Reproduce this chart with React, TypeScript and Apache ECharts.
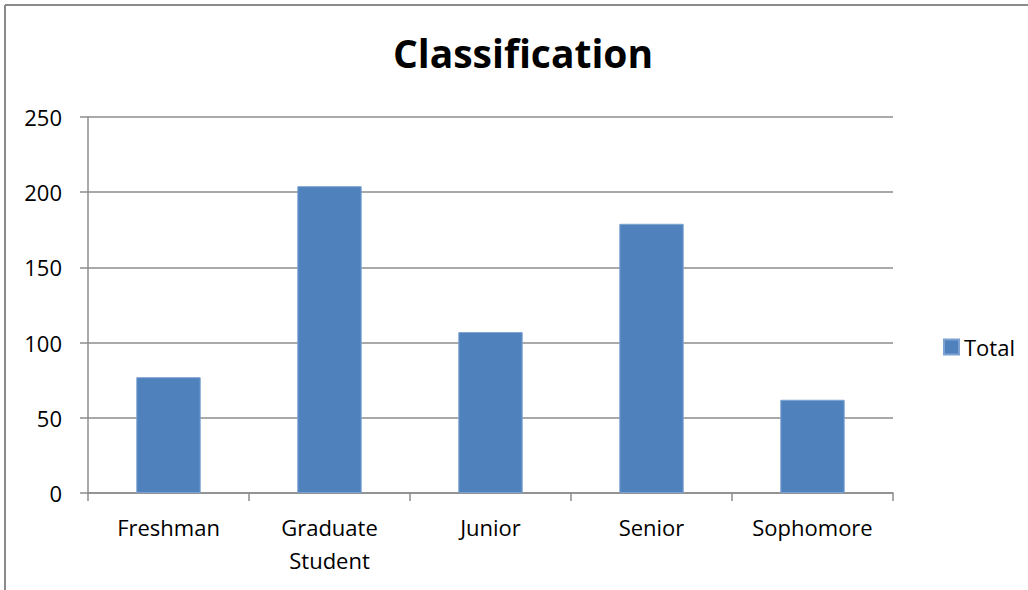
import React, { useEffect, useRef } from "react";
import * as echarts from "echarts";

const categories = ["Freshman", "Graduate Student", "Junior", "Senior", "Sophomore"];
const totals = [77, 204, 107, 179, 62];
const seriesName = "Total";
const chartTitle = "Classification";

const FONT = "'Open Sans', sans-serif";
const GRID_GRAY = "#8c8c8c";

export default function App() {
  const ref = useRef<HTMLDivElement>(null);

  useEffect(() => {
    if (!ref.current) return;
    const chart = echarts.init(ref.current, null, { renderer: "svg" });
    chart.setOption({
      animation: false,
      backgroundColor: "#ffffff",
      textStyle: { fontFamily: FONT, color: "#000" },
      title: {
        text: chartTitle,
        left: 518,
        textAlign: "center",
        top: 28,
        textStyle: { fontFamily: FONT, fontWeight: "bold", fontSize: 39, color: "#000" },
      },
      legend: {
        data: [seriesName],
        left: 938,
        top: 331,
        icon: "rect",
        itemWidth: 15,
        itemHeight: 15,
        textStyle: { fontFamily: FONT, fontSize: 22, color: "#000" },
      },
      grid: { left: 88, right: 135, top: 117, bottom: 97, containLabel: false },
      xAxis: {
        type: "category",
        data: categories,
        axisLine: { lineStyle: { color: GRID_GRAY, width: 1.5 } },
        axisTick: { show: true, alignWithLabel: false, length: 8, lineStyle: { color: GRID_GRAY, width: 1.5 } },
        axisLabel: {
          fontFamily: FONT,
          fontSize: 22,
          color: "#000",
          margin: 17,
          lineHeight: 33,
          interval: 0,
          formatter: (v: string) => v.replace(" ", "\n"),
        },
      },
      yAxis: {
        type: "value",
        min: 0,
        max: 250,
        interval: 50,
        axisLine: { show: true, lineStyle: { color: GRID_GRAY, width: 1.5 } },
        axisTick: { show: true, length: 8, lineStyle: { color: GRID_GRAY, width: 1.5 } },
        axisLabel: { fontFamily: FONT, fontSize: 22, color: "#000", margin: 26 },
        splitLine: { show: true, lineStyle: { color: GRID_GRAY, width: 1.5 } },
      },
      series: [
        {
          name: seriesName,
          type: "bar",
          data: totals,
          barWidth: "40%",
          itemStyle: { color: "#4f81bd", borderColor: "#7da2d2", borderWidth: 1 },
        },
      ],
      graphic: [
        // outer chart frame: top and left edges
        {
          type: "line",
          shape: { x1: 5, y1: 5, x2: 1028, y2: 5 },
          style: { stroke: "#8a8a8a", lineWidth: 2 },
          silent: true,
        },
        {
          type: "line",
          shape: { x1: 5, y1: 5, x2: 5, y2: 590 },
          style: { stroke: "#8a8a8a", lineWidth: 2 },
          silent: true,
        },
      ],
    });
    return () => chart.dispose();
  }, []);

  return (
    <div
      ref={ref}
      style={{ position: "fixed", left: 0, top: 0, width: 1028, height: 590 }}
    />
  );
}
